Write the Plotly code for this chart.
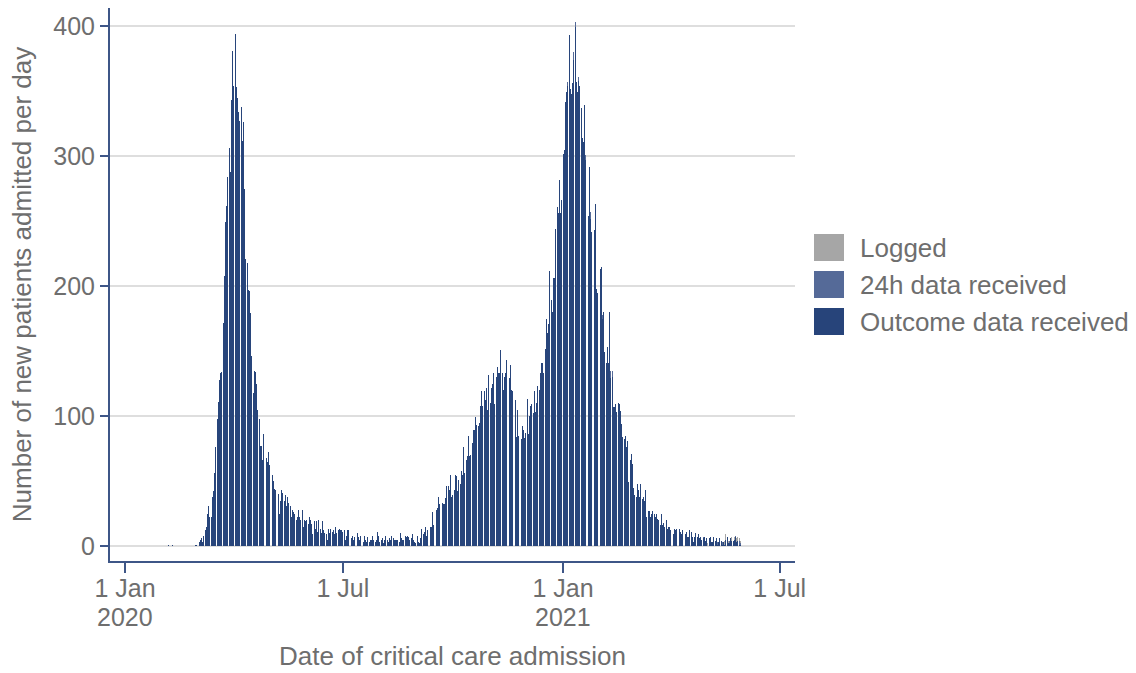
import pandas as pd
import plotly.graph_objects as go

# ---------------- data (daily admissions) ----------------
start_date = "2020-02-01"

total_feb_2020 = [0, 0, 0, 0, 0, 1, 0, 0, 0, 1,
                  0, 0, 0, 0, 0, 0, 0, 0, 0, 0,
                  1, 0, 0, 0, 0, 0, 0, 0, 1]
total_mar_apr_2020 = [1, 7, 3, 5, 6, 3, 8, 12, 15, 25,
                      31, 22, 22, 38, 42, 56, 76, 98, 111, 128,
                      133, 134, 172, 208, 249, 262, 284, 306, 288, 343,
                      381, 354, 394, 353, 345, 334, 327, 338, 312, 326,
                      275, 221, 218, 197, 196, 179, 146, 118, 135, 134,
                      125, 105, 98, 77, 77, 66, 86, 82, 68, 65, 72]
total_may_2020 = [62, 66, 55, 50, 44, 43, 48, 40, 25, 35,
                  43, 41, 35, 39, 31, 38, 33, 31, 22, 28,
                  26, 25, 20, 22, 28, 22, 20, 28, 15, 20, 19]
total_jun_2020 = [20, 17, 22, 20, 17, 9, 19, 13, 19, 11,
                  20, 13, 10, 19, 12, 10, 9, 5, 13, 10,
                  13, 11, 12, 9, 15, 10, 12, 13, 12, 12]
total_jul_2020 = [11, 12, 5, 8, 12, 12, 7, 6, 8, 5,
                  7, 5, 10, 7, 5, 8, 6, 3, 8, 5,
                  3, 7, 3, 5, 5, 8, 5, 3, 5, 11, 8]
total_aug_2020 = [3, 5, 6, 2, 5, 8, 5, 3, 6, 5,
                  8, 6, 5, 5, 5, 5, 3, 10, 6, 5,
                  5, 8, 7, 8, 7, 5, 6, 9, 5, 3, 2]
total_sep3_to_dec17_2020 = [8, 3,
                            2, 6, 13, 9, 11, 15, 8, 12, 12, 15,
                            15, 26, 16, 23, 28, 29, 38, 32, 46, 33,
                            32, 32, 37, 46, 46, 43, 55, 38, 39, 43,
                            55, 54, 42, 51, 48, 58, 55, 76, 56, 66,
                            69, 85, 69, 70, 79, 89, 89, 99, 93, 92,
                            95, 108, 119, 108, 119, 112, 122, 105, 132, 110,
                            122, 125, 133, 109, 130, 138, 133, 133, 151, 133,
                            120, 130, 133, 143, 128, 129, 139, 120, 119, 123,
                            112, 84, 105, 85, 73, 82, 92, 89, 83, 87,
                            113, 86, 100, 108, 109, 102, 119, 103, 110, 123,
                            120, 133, 141, 141, 133, 152]
total_dec18_to_feb18 = [175, 164, 171, 212, 189, 180, 206, 206, 244, 261,
                        256, 282, 256, 266, 302, 305, 342, 349, 357, 393,
                        352, 348, 356, 380, 403, 357, 349, 361, 354, 337,
                        314, 311, 339, 301, 283, 254, 292, 257, 242, 240,
                        243, 263, 198, 195, 195, 213, 215, 178, 180, 149,
                        141, 153, 141, 180, 135, 135, 107, 107, 109, 103,
                        110, 109, 104]
total_feb19_to_may29_2021 = [94, 84, 82, 85, 76, 81, 49, 66, 71, 63,
                             45, 39, 38, 48, 43, 38, 48, 36, 38, 35,
                             43, 22, 27, 27, 22, 25, 27, 25, 22, 25,
                             21, 20, 16, 25, 16, 18, 15, 20, 13, 15,
                             15, 12, 13, 9, 13, 12, 13, 7, 13, 11,
                             9, 12, 9, 9, 11, 7, 7, 12, 11, 7,
                             3, 7, 10, 7, 9, 6, 7, 5, 7, 7,
                             4, 6, 2, 6, 7, 3, 3, 7, 4, 6,
                             3, 3, 6, 4, 3, 3, 4, 9, 7, 4,
                             4, 6, 7, 4, 7, 8, 6, 7, 6, 4]

h24_dates = ["2021-01-05", "2021-01-10", "2021-01-11", "2021-01-14", "2021-01-20",
             "2021-01-24", "2021-02-03", "2021-02-10", "2021-02-11", "2021-04-28",
             "2021-05-10", "2021-05-14", "2021-05-20", "2021-05-25", "2021-05-28",
             "2021-05-29"]
h24_values = [3, 6, 4, 3, 4, 5, 3, 6, 5, 1, 2, 2, 2, 1, 3, 1]

logged_dates = ["2021-05-02", "2021-05-16", "2021-05-17", "2021-05-19", "2021-05-22",
                "2021-05-24", "2021-05-26", "2021-05-27", "2021-05-28", "2021-05-29"]
logged_values = [2, 3, 4, 2, 3, 2, 3, 3, 2, 2]

series_names = ["Logged", "24h data received", "Outcome data received"]
series_colors = ["#A6A6A6", "#556A98", "#27447A"]

x_tick_dates = ["2020-01-01", "2020-07-01", "2021-01-01", "2021-07-01"]
x_tick_labels = ["1 Jan", "1 Jul", "1 Jan", "1 Jul"]
x_year_dates = ["2020-01-01", "2021-01-01"]
x_year_labels = ["2020", "2021"]
y_tick_values = [0, 100, 200, 300, 400]

# ---------------- assemble ----------------
total = (total_feb_2020 + total_mar_apr_2020 + total_may_2020 + total_jun_2020 +
         total_jul_2020 + total_aug_2020 + total_sep3_to_dec17_2020 +
         total_dec18_to_feb18 + total_feb19_to_may29_2021)
dates = pd.date_range(start_date, periods=len(total), freq="D")
total_s = pd.Series(total, index=dates, dtype=float)

h24_s = pd.Series(0.0, index=dates)
h24_s.loc[pd.to_datetime(h24_dates)] = h24_values
logged_s = pd.Series(0.0, index=dates)
logged_s.loc[pd.to_datetime(logged_dates)] = logged_values
outcome_s = (total_s - h24_s - logged_s).clip(lower=0)

AX = "#3E5687"
TXT = "#6E6E6E"
FONT = "Liberation Sans, Arial, Helvetica, sans-serif"


def rgba(hex_color, a=0.995):
    h = hex_color.lstrip("#")
    return f"rgba({int(h[0:2],16)},{int(h[2:4],16)},{int(h[4:6],16)},{a})"


fig = go.Figure()
for name, ser, col in [(series_names[2], outcome_s, series_colors[2]),
                       (series_names[1], h24_s, series_colors[1]),
                       (series_names[0], logged_s, series_colors[0])]:
    fig.add_trace(go.Bar(x=dates, y=ser.values, name=name,
                         marker=dict(color=rgba(col), line=dict(width=0)),
                         showlegend=False))

# plot area in pixels
L, R, T, B = 110, 795, 8, 561
W, H = 1136, 673


def px_x(px):
    return (px - L) / (R - L)


def px_y(py):
    return (B - py) / (B - T)


shapes = []
annotations = []
legend_rows = [(234, 261), (271, 298), (308, 335)]
for (y0, y1), name, col in zip(legend_rows, series_names, series_colors):
    shapes.append(dict(type="rect", xref="paper", yref="paper",
                       x0=px_x(814), x1=px_x(844), y0=px_y(y1), y1=px_y(y0),
                       fillcolor=col, line=dict(width=0)))
    annotations.append(dict(xref="paper", yref="paper", x=px_x(858), y=px_y((y0 + y1) / 2),
                            xanchor="left", yanchor="middle", text=name, showarrow=False,
                            font=dict(size=26, color=TXT, family=FONT)))

# second line of the date tick labels (years)
for d, lab in zip(x_year_dates, x_year_labels):
    annotations.append(dict(xref="x", yref="paper", x=d, y=px_y(617),
                            xanchor="center", yanchor="middle", text=lab, showarrow=False,
                            borderpad=0,
                            font=dict(size=25, color=TXT, family=FONT)))

fig.update_layout(
    width=W, height=H,
    margin=dict(l=L, r=W - R, t=T, b=H - B, autoexpand=False),
    barmode="stack", bargap=0.2,
    plot_bgcolor="white", paper_bgcolor="white",
    showlegend=False,
    font=dict(family=FONT, color=TXT, size=25),
    shapes=shapes, annotations=annotations,
    xaxis=dict(type="date", range=["2019-12-19 12:00", "2021-07-13 18:00"],
               tickmode="array", tickvals=x_tick_dates, ticktext=x_tick_labels,
               showline=True, linecolor=AX, linewidth=2,
               ticks="outside", ticklen=10, tickwidth=2, tickcolor=AX,
               ticklabelstandoff=-6,
               showgrid=False, zeroline=False, automargin=False,
               tickfont=dict(size=25, color=TXT),
               title=dict(text="Date of critical care admission", standoff=46,
                          font=dict(size=26, color=TXT))),
    yaxis=dict(range=[-11.5, 414], tickmode="array", tickvals=y_tick_values,
               showline=True, linecolor=AX, linewidth=2,
               ticks="outside", ticklen=8, tickwidth=2, tickcolor=AX,
               showgrid=True, gridcolor="#DEDEDE", gridwidth=2,
               zeroline=False, automargin=False,
               tickfont=dict(size=25, color=TXT),
               title=dict(text="Number of new patients admitted per day", standoff=14,
                          font=dict(size=26, color=TXT))),
)

fig.write_html("out.html")
